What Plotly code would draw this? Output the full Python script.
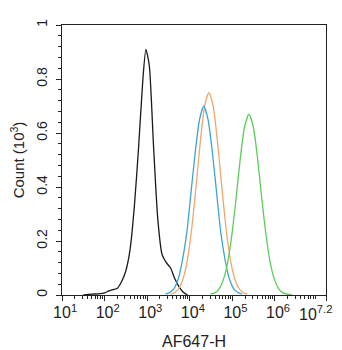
import plotly.graph_objects as go

# log10(AF647-H) positions and counts (x10^3)
black_log = [1.5, 1.7, 1.9, 2.0, 2.1, 2.2, 2.3, 2.4, 2.5, 2.6, 2.7, 2.8, 2.9, 2.97,
             3.05, 3.15, 3.25, 3.35, 3.45, 3.55, 3.65, 3.75, 3.85, 3.95]
black_cnt = [0.0, 0.003, 0.005, 0.008, 0.015, 0.02, 0.025, 0.05, 0.09, 0.17, 0.33, 0.55,
             0.8, 0.91, 0.85, 0.55, 0.28, 0.15, 0.12, 0.10, 0.06, 0.03, 0.01, 0.0]

blue_log = [3.43, 3.53, 3.63, 3.73, 3.83, 3.93, 4.03, 4.13, 4.23, 4.33, 4.43, 4.53,
            4.63, 4.73, 4.83, 4.93, 5.03, 5.13, 5.23]
blue_cnt = [0.003, 0.009, 0.024, 0.06, 0.13, 0.23, 0.38, 0.53, 0.65, 0.70, 0.65, 0.53,
            0.38, 0.23, 0.13, 0.06, 0.024, 0.009, 0.003]

orange_log = [3.55, 3.65, 3.75, 3.85, 3.95, 4.05, 4.15, 4.25, 4.35, 4.45, 4.55, 4.65,
              4.75, 4.85, 4.95, 5.05, 5.15, 5.25, 5.35]
orange_cnt = [0.003, 0.009, 0.026, 0.064, 0.135, 0.25, 0.405, 0.57, 0.70, 0.75, 0.70,
              0.57, 0.405, 0.25, 0.135, 0.064, 0.026, 0.009, 0.003]

green_log = [4.49, 4.59, 4.69, 4.79, 4.89, 4.99, 5.09, 5.19, 5.29, 5.39, 5.49, 5.59,
             5.69, 5.79, 5.89, 5.99, 6.09, 6.19, 6.29, 6.4]
green_cnt = [0.003, 0.008, 0.023, 0.057, 0.12, 0.224, 0.36, 0.51, 0.625, 0.67, 0.625,
             0.51, 0.36, 0.224, 0.12, 0.057, 0.023, 0.008, 0.003, 0.0]

x_tick_exp = [1, 2, 3, 4, 5, 6, 7.2]
x_tick_text = ["<sup>&nbsp;&nbsp;</sup>10<sup>1</sup>", "<sup>&nbsp;&nbsp;</sup>10<sup>2</sup>",
               "<sup>&nbsp;&nbsp;</sup>10<sup>3</sup>", "<sup>&nbsp;&nbsp;</sup>10<sup>4</sup>",
               "<sup>&nbsp;&nbsp;</sup>10<sup>5</sup>", "<sup>&nbsp;&nbsp;</sup>10<sup>6</sup>",
               ""]
last_tick_label = "10<sup>7.2</sup>"
y_tick_vals = [0, 0.2, 0.4, 0.6, 0.8, 1]
y_tick_text = ["0", "0.2", "0.4", "0.6", "0.8", "1"]

series = [
    (black_log, black_cnt, "#1a1a1a"),
    (orange_log, orange_cnt, "#f2a66a"),
    (blue_log, blue_cnt, "#3aa6d6"),
    (green_log, green_cnt, "#5ccc5a"),
]

fig = go.Figure()
for xs, ys, col in series:
    fig.add_trace(go.Scatter(x=[10 ** v for v in xs], y=ys, mode="lines",
                             line=dict(color=col, width=1.3, shape="spline", smoothing=0.6),
                             hoverinfo="skip", showlegend=False))

minor_x = [m * 10 ** k for k in range(1, 8) for m in range(2, 10) if m * 10 ** k < 10 ** 7.2]

font = dict(family="Liberation Sans, Arial, sans-serif", color="#222", size=15)
# page body adds an 8px offset, so the figure is 8px smaller and margins shifted
fig.update_layout(
    width=334, height=342,
    margin=dict(l=54, r=16, t=17, b=55, autoexpand=False),
    paper_bgcolor="white", plot_bgcolor="white",
    font=font,
    xaxis=dict(type="log", range=[1, 7.2],
               tickvals=[10 ** e for e in x_tick_exp], ticktext=x_tick_text,
               tickfont=dict(size=16), ticklabeloverflow="allow", ticklabelstandoff=-2,
               ticks="outside", ticklen=5, tickwidth=1.2, tickcolor="#222",
               minor=dict(tickvals=minor_x, ticks="outside", ticklen=3, tickcolor="#222", showgrid=False),
               showline=True, linecolor="#222", linewidth=1.3, mirror=True,
               showgrid=False, zeroline=False, automargin=False,
               title=dict(text="AF647-H", font=dict(size=16), standoff=16)),
    yaxis=dict(range=[0, 1], tickvals=y_tick_vals, ticktext=y_tick_text, tickangle=-90,
               tickfont=dict(size=14), ticklabelstandoff=3, ticklabeloverflow="allow",
               ticks="outside", ticklen=5, tickwidth=1.2, tickcolor="#222",
               minor=dict(dtick=0.04, ticks="outside", ticklen=3, tickcolor="#222", showgrid=False),
               showline=True, linecolor="#222", linewidth=1.3, mirror=True,
               showgrid=False, zeroline=False, automargin=False,
               title=dict(text="Count (10<sup>3</sup>)", font=dict(size=15), standoff=10)),
    annotations=[dict(text=last_tick_label, xref="paper", yref="paper", x=1, y=0,
                      xanchor="right", yanchor="top", xshift=8, yshift=-6,
                      showarrow=False, font=dict(size=16, color="#222"))],
)

fig.write_html("out.html")
